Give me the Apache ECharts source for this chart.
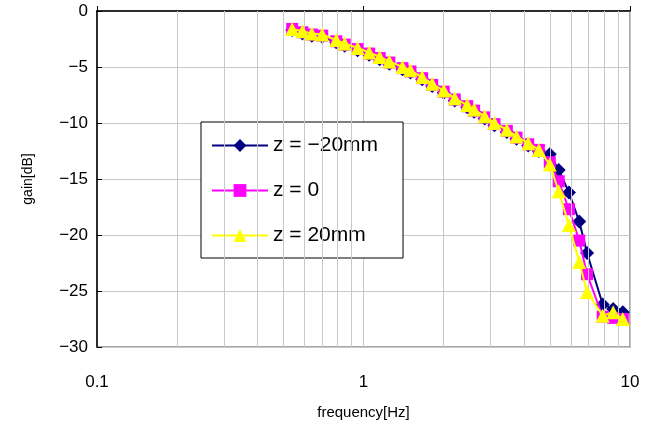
<!DOCTYPE html>
<html>
<head>
<meta charset="utf-8">
<script src="https://cdn.jsdelivr.net/npm/echarts@6/dist/echarts.min.js"></script>
<style>html,body{margin:0;padding:0;background:#fff;}#c{width:654px;height:427px;}</style>
</head>
<body>
<div id="c"></div>
<script>
const freq = [0.54,0.59,0.64,0.70,0.79,0.85,0.95,1.05,1.15,1.25,1.4,1.5,1.66,1.81,2.0,2.2,2.45,2.6,2.85,3.1,3.45,3.75,4.15,4.55,5.0,5.4,5.9,6.45,6.9,7.9,8.65,9.4];
const gainM20 = [-1.7,-2.0,-2.2,-2.3,-2.8,-3.1,-3.5,-3.9,-4.3,-4.7,-5.2,-5.5,-6.1,-6.7,-7.3,-8.0,-8.6,-9.0,-9.6,-10.2,-10.8,-11.4,-12.0,-12.5,-12.8,-14.2,-16.2,-18.8,-21.6,-26.2,-26.6,-26.9];
const gain0 = [-1.6,-1.9,-2.1,-2.2,-2.7,-3.0,-3.4,-3.8,-4.2,-4.6,-5.1,-5.4,-6.0,-6.6,-7.2,-7.9,-8.5,-8.9,-9.5,-10.1,-10.7,-11.3,-11.9,-12.4,-13.5,-15.2,-17.7,-20.5,-23.5,-27.3,-27.4,-27.5];
const gain20 = [-1.6,-1.8,-2.0,-2.1,-2.6,-2.9,-3.3,-3.7,-4.1,-4.5,-5.0,-5.3,-5.9,-6.5,-7.1,-7.8,-8.4,-8.8,-9.4,-10.0,-10.6,-11.2,-11.8,-12.4,-13.7,-16.1,-19.1,-22.4,-25.1,-27.2,-26.9,-27.5];
const seriesNames = ['z = \u221220mm', 'z = 0', 'z = 20mm'];
const xTicks = [0.1, 1, 10];
const minorGrid = [0.2,0.3,0.4,0.5,0.6,0.7,0.8,0.9,2,3,4,5,6,7,8,9];

const FONT = '"Liberation Sans", Arial, sans-serif';
const pairs = arr => freq.map((f, i) => [f, arr[i]]);
const chart = echarts.init(document.getElementById('c'), null, {renderer: 'canvas'});
chart.setOption({
  animation: false,
  backgroundColor: '#fff',
  textStyle: {fontFamily: FONT},
  grid: {left: 97, right: 24, top: 11, bottom: 80, show: true, borderColor: '#888', borderWidth: 1.5},
  xAxis: {
    type: 'log', logBase: 10, min: 0.1, max: 10,
    name: 'frequency[Hz]', nameLocation: 'middle', nameGap: 58,
    nameTextStyle: {fontSize: 15, color: '#000', fontFamily: FONT},
    axisLine: {show: true, lineStyle: {color: '#000', width: 1.5}},
    axisTick: {show: true, inside: true, length: 5, lineStyle: {color: '#000'}},
    axisLabel: {fontSize: 17, color: '#000', margin: 27, fontFamily: FONT,
      formatter: v => xTicks.some(t => Math.abs(t - v) < 1e-9) ? String(v) : ''},
    splitLine: {show: true, lineStyle: {color: '#c8c8c8', width: 1}}
  },
  yAxis: {
    type: 'value', min: -30, max: 0, interval: 5,
    name: 'gain[dB]', nameLocation: 'middle', nameGap: 62,
    nameTextStyle: {fontSize: 14, color: '#000', fontFamily: FONT},
    axisLine: {show: true, lineStyle: {color: '#000', width: 1.5}},
    axisTick: {show: true, inside: true, length: 5, lineStyle: {color: '#000'}},
    axisLabel: {fontSize: 17, color: '#000', margin: 9, fontFamily: FONT,
      formatter: v => String(v).replace('-', '\u2212')},
    splitLine: {show: true, lineStyle: {color: '#c8c8c8', width: 1}}
  },
  legend: {
    data: seriesNames,
    orient: 'vertical', left: 201, top: 122,
    backgroundColor: '#fff', borderColor: '#000', borderWidth: 1,
    padding: [13, 25, 12, 10],
    itemWidth: 56, itemHeight: 16, itemGap: 24,
    textStyle: {fontSize: 21, color: '#000', fontFamily: FONT}
  },
  series: [
    {
      type: 'line', name: '_grid', data: [], silent: true, z: 0,
      markLine: {
        silent: true, symbol: 'none', label: {show: false},
        lineStyle: {color: '#c8c8c8', width: 1, type: 'solid'},
        data: minorGrid.map(v => ({xAxis: v}))
      }
    },
    {
      type: 'line', name: seriesNames[0], data: pairs(gainM20),
      symbol: 'diamond', symbolSize: 14,
      lineStyle: {color: '#000080', width: 2},
      itemStyle: {color: '#000080'}, z: 3
    },
    {
      type: 'line', name: seriesNames[1], data: pairs(gain0),
      symbol: 'rect', symbolSize: 12,
      lineStyle: {color: '#ff00ff', width: 2},
      itemStyle: {color: '#ff00ff'}, z: 4
    },
    {
      type: 'line', name: seriesNames[2], data: pairs(gain20),
      symbol: 'triangle', symbolSize: 14,
      lineStyle: {color: '#ffff00', width: 2},
      itemStyle: {color: '#ffff00'}, z: 5
    }
  ]
});
</script>
</body>
</html>
